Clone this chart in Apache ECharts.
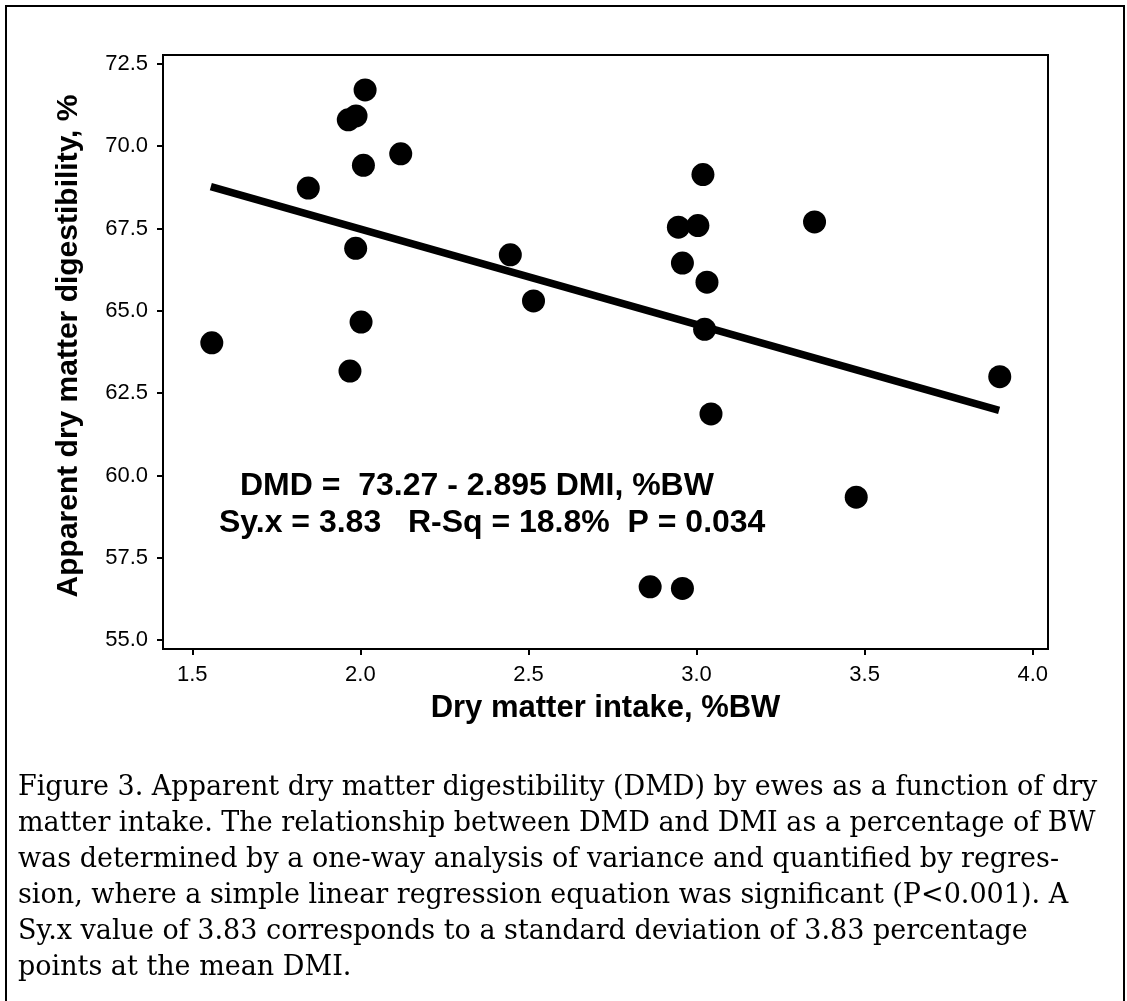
<!DOCTYPE html>
<html>
<head>
<meta charset="utf-8">
<script src="https://cdn.jsdelivr.net/npm/echarts@6/dist/echarts.min.js"></script>
<style>
html,body{margin:0;padding:0;background:#fff;}
#chart{width:1127px;height:1001px;}
</style>
</head>
<body>
<div id="chart"></div>
<script>
// Data
const dmi = [1.558, 1.845, 1.964, 1.987, 2.014, 2.009, 1.986, 2.002, 1.969, 2.120, 2.446, 2.515,
             2.862, 2.958, 2.946, 2.958, 3.004, 3.019, 3.031, 3.024, 3.043, 3.351, 3.475, 3.902];
const dmd = [64.03, 68.73, 70.80, 70.92, 71.71, 69.42, 66.90, 64.66, 63.17, 69.77, 66.70, 65.30,
             56.62, 56.57, 67.54, 66.45, 67.59, 69.14, 65.87, 64.44, 61.87, 67.70, 59.34, 63.00];
const fitX = [1.555, 3.900];
const fitY = [68.77, 61.98];
const xTicks = [1.5, 2.0, 2.5, 3.0, 3.5, 4.0];
const yTicks = [55.0, 57.5, 60.0, 62.5, 65.0, 67.5, 70.0, 72.5];
const xTitle = 'Dry matter intake, %BW';
const yTitle = 'Apparent dry matter digestibility, %';
const eqLine1 = 'DMD =  73.27 - 2.895 DMI, %BW';
const eqLine2 = 'Sy.x = 3.83   R-Sq = 18.8%  P = 0.034';
const captionLines = [
  'Figure 3. Apparent dry matter digestibility (DMD) by ewes as a function of dry',
  'matter intake. The relationship between DMD and DMI as a percentage of BW',
  'was determined by a one-way analysis of variance and quantified by regres-',
  'sion, where a simple linear regression equation was significant (P<0.001). A',
  'Sy.x value of 3.83 corresponds to a standard deviation of 3.83 percentage',
  'points at the mean DMI.'
];

const chart = echarts.init(document.getElementById('chart'), null, {renderer: 'canvas'});
const sans = '"Liberation Sans", Arial, sans-serif';

const option = {
  animation: false,
  backgroundColor: '#fff',
  grid: {
    left: 163, top: 55, right: 79, bottom: 352,
    show: true, borderColor: '#000', borderWidth: 2, backgroundColor: 'transparent'
  },
  xAxis: {
    type: 'value',
    min: 1.4128, max: 4.0455,
    splitLine: {show: false},
    axisLine: {show: true, lineStyle: {color: '#000', width: 2}},
    axisTick: {show: true, length: 6, lineStyle: {color: '#000', width: 2}, customValues: xTicks},
    axisLabel: {
      customValues: xTicks, margin: 15,
      fontFamily: sans, fontSize: 22, color: '#000',
      formatter: v => v.toFixed(1)
    },
    name: xTitle, nameLocation: 'middle', nameGap: 44,
    nameTextStyle: {fontFamily: sans, fontSize: 31, fontWeight: 'bold', color: '#000'}
  },
  yAxis: {
    type: 'value',
    min: 54.73, max: 72.77,
    splitLine: {show: false},
    axisLine: {show: true, lineStyle: {color: '#000', width: 2}},
    axisTick: {show: true, length: 6, lineStyle: {color: '#000', width: 2}, customValues: yTicks},
    axisLabel: {
      customValues: yTicks, margin: 15,
      fontFamily: sans, fontSize: 22, color: '#000',
      formatter: v => v.toFixed(1)
    },
    name: yTitle, nameLocation: 'middle', nameGap: 79, nameRotate: 90,
    nameTextStyle: {fontFamily: sans, fontSize: 30, fontWeight: 'bold', color: '#000', padding: [0, 0, 0, 12]}
  },
  series: [
    {
      type: 'line',
      data: fitX.map((x, i) => [x, fitY[i]]),
      symbol: 'none',
      lineStyle: {color: '#000', width: 7.5},
      z: 2
    },
    {
      type: 'scatter',
      data: dmi.map((x, i) => [x, dmd[i]]),
      symbol: 'circle',
      symbolSize: 23,
      itemStyle: {color: '#000', opacity: 1},
      z: 3
    }
  ],
  graphic: [
    {
      type: 'rect', silent: true, z: 0,
      shape: {x: 6, y: 6, width: 1118, height: 1010},
      style: {fill: 'none', stroke: '#000', lineWidth: 2}
    },
    {
      type: 'text', silent: true, z: 10,
      x: 240, y: 486,
      style: {text: eqLine1, font: 'bold 32px ' + sans, fill: '#000', textVerticalAlign: 'middle', textAlign: 'left'}
    },
    {
      type: 'text', silent: true, z: 10,
      x: 219, y: 523,
      style: {text: eqLine2, font: 'bold 32px ' + sans, fill: '#000', textVerticalAlign: 'middle', textAlign: 'left'}
    },
    {
      type: 'text', silent: true, z: 10,
      x: 18, y: 770,
      style: {text: captionLines.join('\n'), font: '27px "DejaVu Serif", serif', lineHeight: 36, fill: '#000', textAlign: 'left', textVerticalAlign: 'top'}
    }
  ]
};
chart.setOption(option);
</script>
</body>
</html>
